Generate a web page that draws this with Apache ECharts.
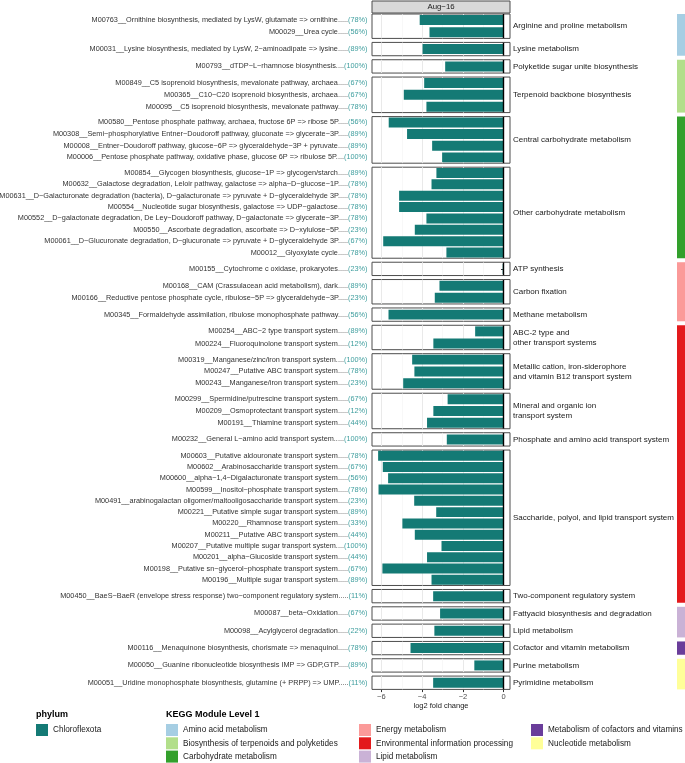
<!DOCTYPE html>
<html>
<head>
<meta charset="utf-8">
<script src="https://cdn.jsdelivr.net/npm/echarts@6/dist/echarts.min.js"></script>
<style>
  html, body { margin: 0; padding: 0; background: #fff; }
  #chart { width: 685px; height: 763px; }
</style>
</head>
<body>
<div id="chart"></div>
<script>
// facets (KEGG level 2) and how many modules each holds, top to bottom
const facets = [
  'Arginine and proline metabolism',
  'Lysine metabolism',
  'Polyketide sugar unite biosynthesis',
  'Terpenoid backbone biosynthesis',
  'Central carbohydrate metabolism',
  'Other carbohydrate metabolism',
  'ATP synthesis',
  'Carbon fixation',
  'Methane metabolism',
  'ABC-2 type and\nother transport systems',
  'Metallic cation, iron-siderophore\nand vitamin B12 transport system',
  'Mineral and organic ion\ntransport system',
  'Phosphate and amino acid transport system',
  'Saccharide, polyol, and lipid transport system',
  'Two-component regulatory system',
  'Fattyacid biosynthesis and degradation',
  'Lipid metabolism',
  'Cofactor and vitamin metabolism',
  'Purine metabolism',
  'Pyrimidine metabolism'
];
const facetSizes = [2, 1, 1, 3, 4, 8, 1, 2, 1, 2, 3, 3, 1, 12, 1, 1, 1, 1, 1, 1];

const modules = [
  'M00763__Ornithine biosynthesis, mediated by LysW, glutamate => ornithine.....',
  'M00029__Urea cycle.....',
  'M00031__Lysine biosynthesis, mediated by LysW, 2−aminoadipate => lysine.....',
  'M00793__dTDP−L−rhamnose biosynthesis....',
  'M00849__C5 isoprenoid biosynthesis, mevalonate pathway, archaea.....',
  'M00365__C10−C20 isoprenoid biosynthesis, archaea.....',
  'M00095__C5 isoprenoid biosynthesis, mevalonate pathway.....',
  'M00580__Pentose phosphate pathway, archaea, fructose 6P => ribose 5P.....',
  'M00308__Semi−phosphorylative Entner−Doudoroff pathway, gluconate => glycerate−3P.....',
  'M00008__Entner−Doudoroff pathway, glucose−6P => glyceraldehyde−3P + pyruvate.....',
  'M00006__Pentose phosphate pathway, oxidative phase, glucose 6P => ribulose 5P....',
  'M00854__Glycogen biosynthesis, glucose−1P => glycogen/starch.....',
  'M00632__Galactose degradation, Leloir pathway, galactose => alpha−D−glucose−1P.....',
  'M00631__D−Galacturonate degradation (bacteria), D−galacturonate => pyruvate + D−glyceraldehyde 3P.....',
  'M00554__Nucleotide sugar biosynthesis, galactose => UDP−galactose.....',
  'M00552__D−galactonate degradation, De Ley−Doudoroff pathway, D−galactonate => glycerate−3P.....',
  'M00550__Ascorbate degradation, ascorbate => D−xylulose−5P.....',
  'M00061__D−Glucuronate degradation, D−glucuronate => pyruvate + D−glyceraldehyde 3P.....',
  'M00012__Glyoxylate cycle.....',
  'M00155__Cytochrome c oxidase, prokaryotes.....',
  'M00168__CAM (Crassulacean acid metabolism), dark.....',
  'M00166__Reductive pentose phosphate cycle, ribulose−5P => glyceraldehyde−3P.....',
  'M00345__Formaldehyde assimilation, ribulose monophosphate pathway.....',
  'M00254__ABC−2 type transport system.....',
  'M00224__Fluoroquinolone transport system.....',
  'M00319__Manganese/zinc/iron transport system....',
  'M00247__Putative ABC transport system.....',
  'M00243__Manganese/iron transport system.....',
  'M00299__Spermidine/putrescine transport system.....',
  'M00209__Osmoprotectant transport system.....',
  'M00191__Thiamine transport system.....',
  'M00232__General L−amino acid transport system.....',
  'M00603__Putative aldouronate transport system.....',
  'M00602__Arabinosaccharide transport system.....',
  'M00600__alpha−1,4−Digalacturonate transport system.....',
  'M00599__Inositol−phosphate transport system.....',
  'M00491__arabinogalactan oligomer/maltooligosaccharide transport system.....',
  'M00221__Putative simple sugar transport system.....',
  'M00220__Rhamnose transport system.....',
  'M00211__Putative ABC transport system.....',
  'M00207__Putative multiple sugar transport system....',
  'M00201__alpha−Glucoside transport system.....',
  'M00198__Putative sn−glycerol−phosphate transport system.....',
  'M00196__Multiple sugar transport system.....',
  'M00450__BaeS−BaeR (envelope stress response) two−component regulatory system.....',
  'M00087__beta−Oxidation.....',
  'M00098__Acylglycerol degradation.....',
  'M00116__Menaquinone biosynthesis, chorismate => menaquinol.....',
  'M00050__Guanine ribonucleotide biosynthesis IMP => GDP,GTP.....',
  'M00051__Uridine monophosphate biosynthesis, glutamine (+ PRPP) => UMP.....'
];

const coverage = [
  '78%', '56%', '89%', '100%', '67%', '67%', '78%',
  '56%', '89%', '89%', '100%',
  '89%', '78%', '78%', '78%', '78%', '23%', '67%', '78%',
  '23%', '89%', '23%', '56%',
  '89%', '12%', '100%', '78%', '23%', '67%', '12%', '44%', '100%',
  '78%', '67%', '56%', '78%', '23%', '89%', '33%', '44%', '100%', '44%', '67%', '89%',
  '11%', '67%', '22%', '78%', '89%', '11%'
];

const log2fc = [
  -4.12, -3.64, -3.98, -2.87, -3.90, -4.90, -3.79,
  -5.64, -4.74, -3.51, -3.02,
  -3.30, -3.54, -5.13, -5.13, -3.79, -4.36, -5.91, -2.81,
  -0.05, -3.15, -3.38, -5.65,
  -1.40, -3.45, -4.49, -4.38, -4.93, -2.75, -3.45, -3.76, -2.79,
  -6.16, -5.93, -5.67, -6.14, -4.39, -3.31, -4.97, -4.36, -3.05, -3.76, -5.95, -3.54,
  -3.46, -3.12, -3.40, -4.57, -1.44, -3.46
];

// KEGG level 1 groups and how many facets each covers
const level1Names = [
  'Amino acid metabolism',
  'Biosynthesis of terpenoids and polyketides',
  'Carbohydrate metabolism',
  'Energy metabolism',
  'Environmental information processing',
  'Lipid metabolism',
  'Metabolism of cofactors and vitamins',
  'Nucleotide metabolism'
];
const level1FacetCount = [2, 2, 2, 3, 6, 2, 1, 2];
const level1Colors = ['#a6cee3', '#b2df8a', '#33a02c', '#fb9a99', '#e31a1c', '#cab2d6', '#6a3d9a', '#ffff99'];

const phylum = 'Chloroflexota';
const stripLabel = 'Aug−16';
const xTicks = [-6, -4, -2, 0];
const xMinorTicks = [-5, -3, -1];

const FONT = '"Liberation Sans", Arial, Helvetica, sans-serif';
const TOP = 14, UNIT = 11.1, GAP = 4;
const PANEL_LEFT = 372, PANEL_W = 138;
const X_MIN = -6.46, X_MAX = 0.31;
const BAR_COLOR = '#147a75';

const grids = [], xAxes = [], yAxes = [], series = [], graphics = [];
const panelBox = [];

let y = TOP, k = 0;
facets.forEach((facet, i) => {
  const n = facetSizes[i];
  const h = (n + 0.2) * UNIT;
  const last = i === facets.length - 1;
  const names = modules.slice(k, k + n);
  const pcts = coverage.slice(k, k + n);
  const vals = log2fc.slice(k, k + n);

  grids.push({
    left: PANEL_LEFT, top: y, width: PANEL_W, height: h,
    show: true, backgroundColor: '#fff', borderColor: '#4d4d4d', borderWidth: 1,
    containLabel: false, outerBoundsMode: 'none'
  });
  // major gridlines (+ the real axis on the last panel)
  xAxes.push({
    type: 'value', gridIndex: i, min: X_MIN, max: X_MAX, position: 'bottom',
    axisLine: { show: false },
    axisTick: { show: last, customValues: xTicks, length: 2.7, lineStyle: { color: '#333', width: 1 } },
    axisLabel: {
      show: last, customValues: xTicks, margin: 4, fontSize: 7.5, color: '#4d4d4d', fontFamily: FONT,
      formatter: v => String(v).replace('-', '−')
    },
    splitLine: { show: true, lineStyle: { color: '#e9e9e9', width: 1 } },
    name: last ? 'log2 fold change' : '',
    nameLocation: 'middle', nameGap: 12,
    nameTextStyle: { fontSize: 7.5, color: '#1a1a1a', fontFamily: FONT }
  });
  // minor gridlines
  xAxes.push({
    type: 'value', gridIndex: i, min: X_MIN, max: X_MAX, position: 'bottom',
    axisLine: { show: false },
    axisTick: { show: false, customValues: xMinorTicks },
    axisLabel: { show: false },
    splitLine: { show: true, lineStyle: { color: '#f4f4f4', width: 0.6 } }
  });
  yAxes.push({
    type: 'category', gridIndex: i, inverse: true, data: names,
    axisLine: { show: false },
    axisTick: { show: true, alignWithLabel: true, length: 2.7, lineStyle: { color: '#333' } },
    splitLine: { show: false },
    axisLabel: {
      interval: 0, margin: 4.5,
      formatter: (v, idx) => `{n|${v}}{p|(${pcts[idx]})}`,
      rich: {
        n: { fontSize: 7.3, color: '#333', fontFamily: FONT },
        p: { fontSize: 7.3, color: '#3f9e9e', fontFamily: FONT }
      }
    }
  });
  series.push({
    type: 'bar', name: phylum,
    xAxisIndex: 2 * i, yAxisIndex: i,
    data: vals, barWidth: UNIT * 0.9,
    itemStyle: { color: BAR_COLOR },
    markLine: {
      silent: true, symbol: 'none', label: { show: false },
      lineStyle: { color: '#000', width: 1.4, type: 'solid' },
      data: [{ xAxis: 0 }]
    }
  });
  graphics.push({
    type: 'text', x: PANEL_LEFT + PANEL_W + 3, y: y + h / 2,
    style: {
      text: facet, fill: '#1a1a1a', fontSize: 8, fontFamily: FONT,
      verticalAlign: 'middle', lineHeight: 10
    }
  });
  panelBox.push([y, y + h]);
  y += h + GAP;
  k += n;
});

// KEGG level 1 colour strips on the right
let f = 0;
level1Names.forEach((name, j) => {
  const cnt = level1FacetCount[j];
  const top = panelBox[f][0], bottom = panelBox[f + cnt - 1][1];
  grids.push({ left: 677, top: top, width: 8, height: bottom - top, containLabel: false, outerBoundsMode: 'none' });
  xAxes.push({ type: 'category', gridIndex: grids.length - 1, data: [name], show: false });
  yAxes.push({ type: 'value', gridIndex: grids.length - 1, min: 0, max: 1, show: false });
  series.push({
    type: 'bar', name: name,
    xAxisIndex: xAxes.length - 1, yAxisIndex: yAxes.length - 1,
    data: [1], barWidth: '100%',
    itemStyle: { color: level1Colors[j] }
  });
  f += cnt;
});

// facet strip on top
graphics.push({
  type: 'rect', shape: { x: PANEL_LEFT, y: 1, width: PANEL_W, height: 12 },
  style: { fill: '#d9d9d9', stroke: '#4d4d4d', lineWidth: 1 }
});
graphics.push({
  type: 'text', x: PANEL_LEFT + PANEL_W / 2, y: 7,
  style: { text: stripLabel, fill: '#1a1a1a', fontSize: 7.8, fontFamily: FONT, align: 'center', verticalAlign: 'middle' }
});

const legendBase = {
  orient: 'vertical', padding: 0, itemGap: 1.3, itemWidth: 12, itemHeight: 12, icon: 'rect',
  selectedMode: false,
  textStyle: { fontSize: 8.2, color: '#1a1a1a', fontFamily: FONT }
};

const chart = echarts.init(document.getElementById('chart'), null, { renderer: 'canvas' });
chart.setOption({
  animation: false,
  backgroundColor: '#fff',
  title: [
    { text: 'phylum', left: 36, top: 710, padding: 0, textStyle: { fontSize: 9, fontWeight: 'bold', color: '#000', fontFamily: FONT } },
    { text: 'KEGG Module Level 1', left: 166, top: 710, padding: 0, textStyle: { fontSize: 9, fontWeight: 'bold', color: '#000', fontFamily: FONT } }
  ],
  legend: [
    Object.assign({}, legendBase, { left: 36, top: 724, data: [phylum] }),
    Object.assign({}, legendBase, { left: 166, top: 724, data: level1Names.slice(0, 3) }),
    Object.assign({}, legendBase, { left: 359, top: 724, data: level1Names.slice(3, 6) }),
    Object.assign({}, legendBase, { left: 531, top: 724, data: level1Names.slice(6) })
  ],
  grid: grids,
  xAxis: xAxes,
  yAxis: yAxes,
  series: series,
  graphic: graphics
});
</script>
</body>
</html>
